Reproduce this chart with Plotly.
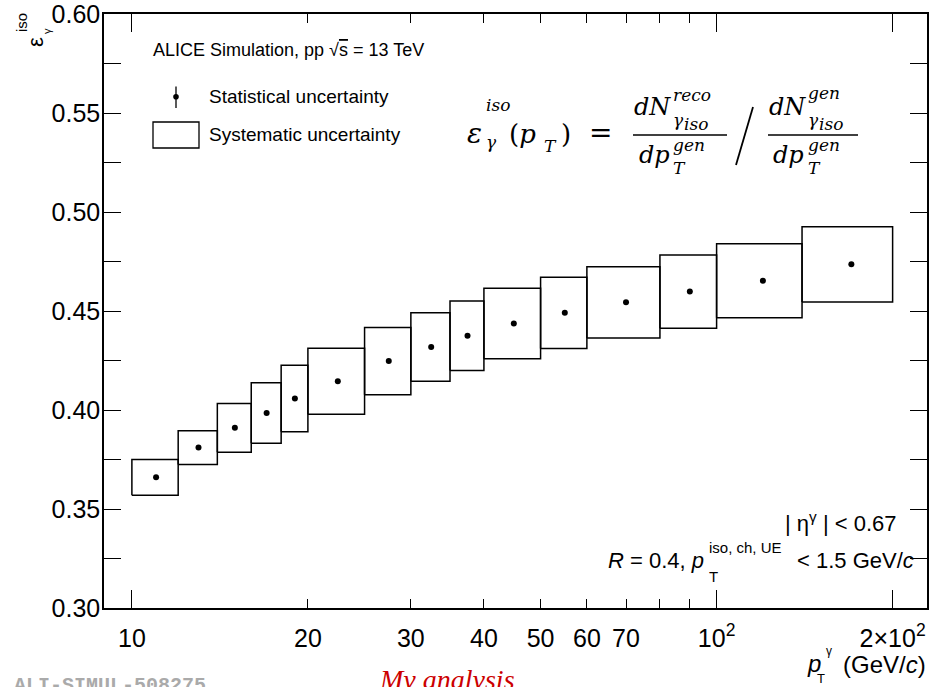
import numpy as np
import plotly.graph_objects as go

# ---------------- data ----------------
bin_lo = [10, 12, 14, 16, 18, 20, 25, 30, 35, 40, 50, 60, 80, 100, 140]
bin_hi = [12, 14, 16, 18, 20, 25, 30, 35, 40, 50, 60, 80, 100, 140, 200]
pt_center = [11, 13, 15, 17, 19, 22.5, 27.5, 32.5, 37.5, 45, 55, 70, 90, 120, 170]
eff = [0.366, 0.381, 0.391, 0.3985, 0.4058, 0.4145, 0.4247, 0.4318, 0.4375,
       0.4437, 0.4491, 0.4544, 0.4598, 0.4653, 0.4736]
sys_err = [0.009, 0.0085, 0.0123, 0.0153, 0.0168, 0.0167, 0.017, 0.0173, 0.0175,
           0.0178, 0.018, 0.018, 0.0185, 0.0187, 0.019]
stat_err = [0.001, 0.001, 0.001, 0.001, 0.001, 0.001, 0.001, 0.001, 0.001,
            0.001, 0.001, 0.001, 0.001, 0.001, 0.001]

x_tickvals = [10, 20, 30, 40, 50, 60, 70, 100, 200]
x_ticktext = ["10", "20", "30", "40", "50", "60", "70", "10<sup>2</sup>", "2×10<sup>2</sup>"]
x_minor = [80, 90]
x_long = [10, 100, 200]
y_tickvals = [0.30, 0.35, 0.40, 0.45, 0.50, 0.55, 0.60]

# ---------------- layout geometry ----------------
W, H = 936, 687
PL, PR, PT, PB = 104, 927, 14, 608

def X(px):
    return (px - PL) / (PR - PL)

def Y(py):
    return (PB - py) / (PB - PT)

SANS = "Liberation Sans, Arial, sans-serif"
SERIF = "DejaVu Serif, Liberation Serif, serif"

fig = go.Figure()

# systematic boxes
bx, by = [], []
for lo, hi, v, s in zip(bin_lo, bin_hi, eff, sys_err):
    bx += [lo, hi, hi, lo, lo, None]
    by += [v - s, v - s, v + s, v + s, v - s, None]
fig.add_trace(go.Scatter(x=bx, y=by, mode="lines",
                         line=dict(color="black", width=1.5),
                         hoverinfo="skip", showlegend=False))

# points with statistical uncertainty
fig.add_trace(go.Scatter(x=pt_center, y=eff, mode="markers",
                         marker=dict(color="black", size=6),
                         error_y=dict(type="data", array=stat_err, color="black",
                                      thickness=1, width=0),
                         showlegend=False))

# overlay axis for long decade ticks
fig.add_trace(go.Scatter(x=[10], y=[0.2], xaxis="x2", mode="markers",
                         marker=dict(opacity=0), showlegend=False, hoverinfo="skip"))

xr = [np.log10(8.96), np.log10(229.0)]

fig.update_layout(
    template="none",
    width=W, height=H,
    margin=dict(l=PL, r=W - PR, t=PT, b=H - PB, autoexpand=False),
    paper_bgcolor="white", plot_bgcolor="white",
    showlegend=False,
    xaxis=dict(type="log", range=xr, tickmode="array", tickvals=x_tickvals,
               ticktext=x_ticktext, ticks="inside", ticklen=9, tickwidth=1,
               tickcolor="black", showline=True, linecolor="black", linewidth=1.5,
               mirror="allticks", showgrid=False, zeroline=False, automargin=False,
               tickfont=dict(family=SANS, size=25, color="black"),
               ticklabelstandoff=7, ticklabeloverflow="allow",
               minor=dict(tickmode="array", tickvals=x_minor, ticks="inside",
                          ticklen=9, tickwidth=1, tickcolor="black", showgrid=False)),
    xaxis2=dict(type="log", range=xr, overlaying="x", anchor="y", side="bottom",
                tickmode="array", tickvals=x_long, ticks="inside", ticklen=18,
                tickwidth=1, tickcolor="black", showticklabels=False, automargin=False,
                mirror="allticks", showline=False, showgrid=False, zeroline=False),
    yaxis=dict(range=[0.30, 0.60], tickmode="array", tickvals=y_tickvals,
               tickformat=".2f", ticks="inside", ticklen=17, tickwidth=1,
               tickcolor="black", showline=True, linecolor="black", linewidth=1.5,
               mirror="allticks", showgrid=False, zeroline=False, automargin=False,
               tickfont=dict(family=SANS, size=25, color="black"),
               ticklabelstandoff=-3, ticklabeloverflow="allow",
               minor=dict(dtick=0.025, ticks="inside", ticklen=9, tickwidth=1,
                          tickcolor="black", showgrid=False)),
)

ann = []

def T(px, py, text, size=19, xa="left", ya="middle", family=SANS, color="black", angle=0):
    ann.append(dict(x=X(px), y=Y(py), xref="paper", yref="paper", text=text,
                    showarrow=False, xanchor=xa, yanchor=ya, textangle=angle,
                    font=dict(family=family, size=size, color=color)))

# header & legend
T(151, 50, "ALICE Simulation, pp √<span style='text-decoration:overline'>s</span> = 13 TeV", size=18)
T(207, 97, "Statistical uncertainty", size=19)
T(207, 134, "Systematic uncertainty", size=19)

shapes = []

def S(**kw):
    d = dict(xref="paper", yref="paper", line=dict(color="black", width=1.3))
    d.update(kw)
    shapes.append(d)

S(type="line", x0=X(176), x1=X(176), y0=Y(86.5), y1=Y(108))
S(type="circle", x0=X(173.2), x1=X(178.8), y0=Y(94), y1=Y(99.6), fillcolor="black", line=dict(color="black", width=0))
S(type="rect", x0=X(153), x1=X(199), y0=Y(122), y1=Y(148))

# formula
BIG, SM = 24, 17
T(465, 133, "<i>ε</i>", size=28, family=SERIF)
T(484, 105, "<i>iso</i>", size=SM, family=SERIF)
T(484, 142, "<i>γ</i>", size=SM, family=SERIF)
T(507, 134, "(<i>p</i>", size=26, family=SERIF)
T(542, 146, "<i>T</i>", size=SM, family=SERIF)
T(559, 134, ")", size=26, family=SERIF)
T(600, 132, "=", size=28, family=SERIF, xa="center")
# fraction 1
T(632, 107, "<i>dN</i>", size=BIG, family=SERIF)
T(671, 95, "<i>reco</i>", size=SM, family=SERIF)
T(671, 120, "<i>γ</i>", size=SM, family=SERIF)
T(682, 124, "<i>iso</i>", size=SM, family=SERIF)
S(type="line", x0=X(633), x1=X(727), y0=Y(135), y1=Y(135), line=dict(color="black", width=1.6))
T(637, 155, "<i>dp</i>", size=BIG, family=SERIF)
T(671, 145, "<i>gen</i>", size=SM, family=SERIF)
T(671, 168, "<i>T</i>", size=SM, family=SERIF)
# slash
S(type="line", x0=X(736), x1=X(753), y0=Y(165), y1=Y(107), line=dict(color="black", width=1.8))
# fraction 2
T(767, 107, "<i>dN</i>", size=BIG, family=SERIF)
T(806, 93, "<i>gen</i>", size=SM, family=SERIF)
T(806, 120, "<i>γ</i>", size=SM, family=SERIF)
T(817, 124, "<i>iso</i>", size=SM, family=SERIF)
S(type="line", x0=X(768), x1=X(858), y0=Y(135), y1=Y(135), line=dict(color="black", width=1.6))
T(771, 155, "<i>dp</i>", size=BIG, family=SERIF)
T(806, 145, "<i>gen</i>", size=SM, family=SERIF)
T(806, 168, "<i>T</i>", size=SM, family=SERIF)

# bottom-right cuts
T(898, 522, "| η<sup>γ</sup> | < 0.67", size=22, xa="right")
T(706, 560, "<i>R</i> = 0.4, <i>p</i>", size=22, xa="right")
T(707, 547, "iso, ch, UE", size=15)
T(707, 576, "T", size=15)
T(916, 560, "< 1.5 GeV/<i>c</i>", size=22, xa="right")

# axis titles
T(35, 42, "ε", size=22, xa="center", ya="middle", angle=-90)
T(22, 23, "iso", size=15, xa="center", ya="middle", angle=-90)
T(47, 31, "γ", size=11, xa="center", ya="middle", angle=-90)

T(823, 663, "<i>p</i>", size=24, xa="right")
T(821, 678, "T", size=13, xa="center")
T(824, 651, "γ", size=12)
T(928, 664, "(GeV/<i>c</i>)", size=24, xa="right")

# watermarks (cut at the bottom edge)
T(12, 672, "<b>ALI-SIMUL-508275</b>", size=20, ya="top", family="Liberation Mono, Courier New, monospace", color="#aaaaaa")
T(377, 662, "<i>My analysis</i>", size=28, ya="top", family="Liberation Serif, serif", color="#cc0000")

fig.update_layout(annotations=ann, shapes=shapes)
fig.write_html("out.html")
